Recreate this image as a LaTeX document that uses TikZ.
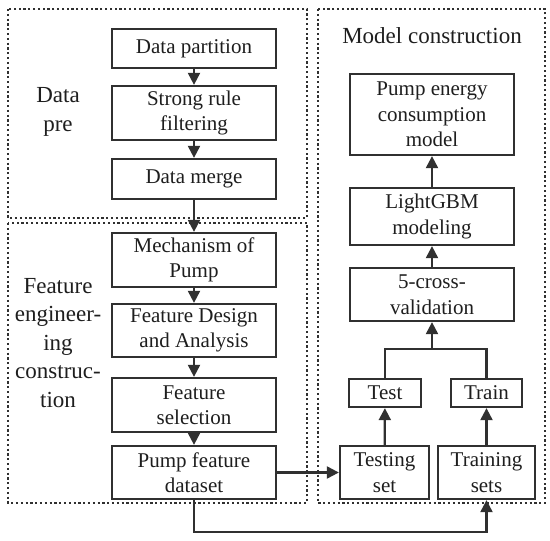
\documentclass[tikz,border=0pt]{standalone}
\usepackage{fontspec}
\setmainfont{Liberation Serif}
\newfontfamily\tnr{Liberation Serif}
\usetikzlibrary{arrows.meta}
\definecolor{ln}{HTML}{303030}
\definecolor{tx}{HTML}{1E1E1E}
\begin{document}
\begin{tikzpicture}[x=1pt,y=-1pt,
  box/.style={draw=ln,line width=2.3pt,rectangle,inner sep=0pt,align=center,text=tx,
    font=\tnr\fontsize{21}{25.5}\selectfont},
  grp/.style={draw=ln,line width=2pt,dash pattern=on 2.2pt off 2.6pt},
  lab/.style={align=center,text=tx,font=\tnr\fontsize{23}{28.5}\selectfont},
  arr/.style={draw=ln,line width=2.2pt,-{Triangle[width=12pt,length=12pt]}},
  ln/.style={draw=ln,line width=2.2pt}]
\useasboundingbox (0,0) rectangle (550,541);
\fill[white] (0,0) rectangle (550,541);
% group frames
\draw[grp] (8,9) rectangle (307,218);
\draw[grp] (8,223) rectangle (307,503);
\draw[grp] (318,9) rectangle (545,503);
% labels
\node[lab] (l1) at (58,112) {Data\\pre};
\node[lab] (l2) at (58,343) {Feature\\engineer-\\ing\\construc-\\tion};
\node[lab] (l3) at (432,36) {Model construction};
% left column
\node[box,minimum width=164pt,minimum height=39pt] (dp) at (194,48.5) {Data partition};
\node[box,minimum width=164pt,minimum height=54pt] (srf) at (194,113) {Strong rule\\filtering};
\node[box,minimum width=164pt,minimum height=40pt] (dm) at (194,179) {Data merge};
\node[box,minimum width=164pt,minimum height=54pt] (mp) at (194,260) {Mechanism of\\Pump};
\node[box,minimum width=164pt,minimum height=53pt] (fda) at (194,330.5) {Feature Design\\and Analysis};
\node[box,minimum width=164pt,minimum height=54pt] (fs) at (194,405) {Feature\\selection};
\node[box,minimum width=164pt,minimum height=53pt] (pfd) at (194,472.5) {Pump feature\\dataset};
% right column
\node[box,minimum width=164pt,minimum height=81pt] (pecm) at (432,114.5) {Pump energy\\consumption\\model};
\node[box,minimum width=164pt,minimum height=57pt] (lgbm) at (432,216.5) {LightGBM\\modeling};
\node[box,minimum width=164pt,minimum height=53pt] (cv) at (432,294.5) {5-cross-\\validation};
\node[box,minimum width=72pt,minimum height=28pt] (test) at (385,393) {Test};
\node[box,minimum width=71pt,minimum height=28pt] (train) at (486.5,393) {Train};
\node[box,minimum width=89pt,minimum height=53pt] (tset) at (384.5,472.5) {Testing\\set};
\node[box,minimum width=97pt,minimum height=53pt] (trset) at (486.5,472.5) {Training\\sets};
% connectors
\draw[arr] (dp) -- (srf);
\draw[arr] (srf) -- (dm);
\draw[arr] (dm) -- (mp);
\draw[arr] (mp) -- (fda);
\draw[arr] (fda) -- (fs);
\draw[arr] (fs) -- (pfd);
\draw[arr] (pfd.east) -- (tset.west);
\draw[arr] (pfd.south) -- ++(0,32) -| (trset.south);
\draw[arr] (tset) -- (test);
\draw[arr] (trset) -- (train);
\coordinate (j) at (432,349);
\draw[ln] (test.north) |- (j) -| (train.north);
\draw[arr] (j) -- (cv.south);
\draw[arr] (cv) -- (lgbm);
\draw[arr] (lgbm) -- (pecm);
\end{tikzpicture}
\end{document}
